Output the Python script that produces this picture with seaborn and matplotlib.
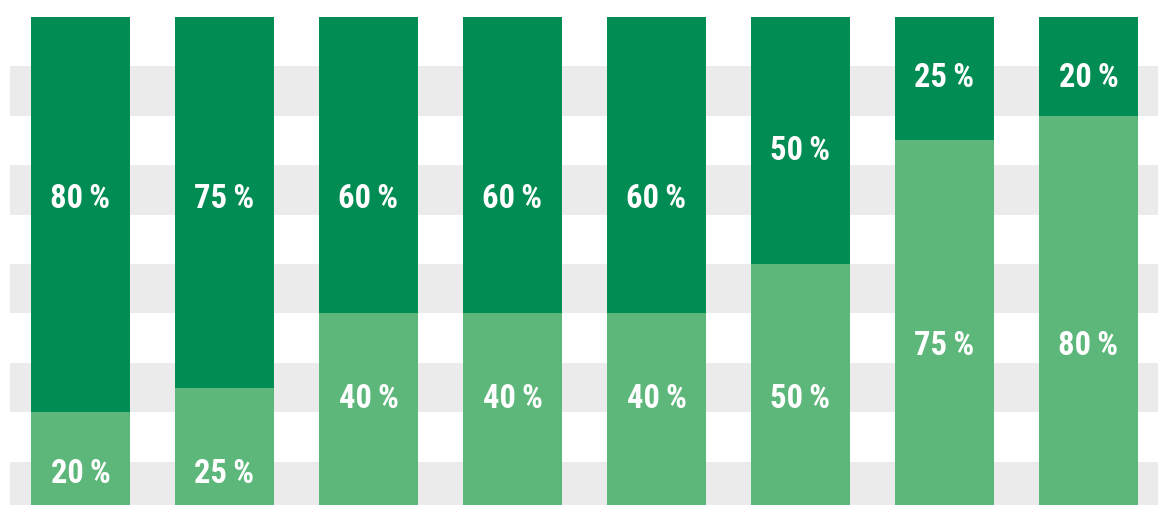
import matplotlib
matplotlib.use("Agg")
import matplotlib.pyplot as plt
import seaborn as sns
import pandas as pd

# Data
categories = ["A", "B", "C", "D", "E", "F", "G", "H"]
bottom_share = [20, 25, 40, 40, 40, 50, 75, 80]   # light green
top_share = [80, 75, 60, 60, 60, 50, 25, 20]      # dark green
# label anchor heights (in %) for the two segments
bottom_label_y = [7.9, 7.9, 23.1, 23.1, 23.1, 23.1, 33.8, 33.8]
top_label_y = [63.6, 63.6, 63.6, 63.6, 63.6, 73.3, 88.0, 88.0]

DARK = "#008C52"
LIGHT = "#5DB77A"
GRAY = "#EBEBEB"

sns.set_theme(style="white")
plt.rcParams["font.family"] = ["Roboto Condensed", "DejaVu Sans"]

W, H = 1158, 505
fig = plt.figure(figsize=(W / 100, H / 100), dpi=100)
ax = fig.add_axes([10 / W, 0, 1148 / W, 1])

df = pd.DataFrame({
    "cat": categories,
    "total": [b + t for b, t in zip(bottom_share, top_share)],
    "bottom": bottom_share,
})

# alternating gray bands every 10 %
for k in range(0, 100, 20):
    ax.axhspan(k, k + 10, color=GRAY, lw=0, zorder=0)

sns.barplot(data=df, x="cat", y="total", order=categories, color=DARK,
            saturation=1, width=0.6875, ax=ax, zorder=2, linewidth=0)
sns.barplot(data=df, x="cat", y="bottom", order=categories, color=LIGHT,
            saturation=1, width=0.6875, ax=ax, zorder=3, linewidth=0)

px_per = 494 / 100.0
ax.set_ylim(6 / px_per, 100 + 17 / px_per)
ax.set_xlim(-70.5 / 144, (1158 - 10 - 70.5) / 144)

style = dict(ha="center", va="baseline", color="white", fontsize=23.5,
             fontweight="bold", zorder=5, textcoords="offset pixels",
             xytext=(0, -11))
for i in range(len(categories)):
    ax.annotate(f"{bottom_share[i]}\u2009%", (i, bottom_label_y[i]), **style)
    ax.annotate(f"{top_share[i]}\u2009%", (i, top_label_y[i]), **style)

ax.set_axis_off()
fig.savefig("out.png", dpi=100)
